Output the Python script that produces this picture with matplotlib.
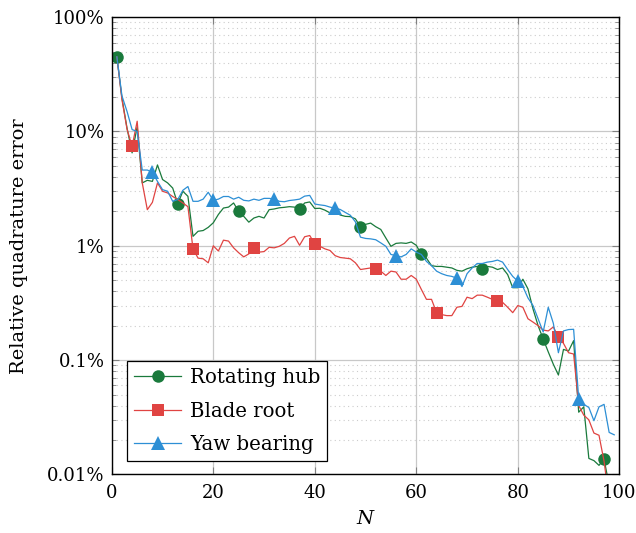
import matplotlib
matplotlib.use("Agg")
import matplotlib.pyplot as plt
from matplotlib.ticker import FixedLocator, FuncFormatter, LogLocator, NullFormatter
import numpy as np

N = list(range(1, 100))

rotating_hub = [45, 19.6, 10.7, 6.5, 11, 3.55, 3.74, 3.66, 5.1, 3.8,
                3.55, 3.2, 2.33, 3.0, 2.71, 1.21, 1.34, 1.36, 1.45, 1.59,
                1.88, 2.14, 2.18, 2.37, 2.0, 1.81, 1.61, 1.75, 1.81, 1.75,
                2.07, 2.1, 2.15, 2.17, 2.2, 2.18, 2.1, 2.37, 2.42, 2.12,
                2.13, 2.05, 1.94, 2.0, 1.86, 1.81, 1.8, 1.72, 1.47, 1.54,
                1.58, 1.47, 1.39, 1.17, 0.99, 1.05, 1.06, 1.05, 1.08, 1.01,
                0.84, 0.78, 0.67, 0.66, 0.66, 0.65, 0.64, 0.61, 0.6, 0.63,
                0.65, 0.66, 0.63, 0.66, 0.65, 0.62, 0.64, 0.56, 0.43, 0.43,
                0.51, 0.42, 0.28, 0.2, 0.153, 0.118, 0.092, 0.074, 0.124, 0.12,
                0.148, 0.035, 0.039, 0.0138, 0.0132, 0.012, 0.0136, 0.008, 0.007]

blade_root = [45, 19, 10.5, 7.4, 12.3, 3.55, 2.07, 2.4, 3.55, 3.0,
              2.9, 2.7, 2.54, 2.37, 2.2, 0.94, 0.78, 0.77, 0.71, 1.0,
              0.9, 1.12, 1.1, 0.96, 0.87, 0.8, 0.85, 0.96, 0.88, 0.89,
              0.97, 0.96, 0.99, 1.05, 1.17, 1.21, 1.01, 1.2, 1.23, 1.04,
              0.99, 0.94, 0.91, 0.82, 0.79, 0.78, 0.77, 0.71, 0.62, 0.63,
              0.64, 0.63, 0.6, 0.55, 0.6, 0.59, 0.51, 0.51, 0.55, 0.51,
              0.415, 0.34, 0.34, 0.26, 0.25, 0.245, 0.245, 0.29, 0.295, 0.355,
              0.345, 0.37, 0.37, 0.355, 0.34, 0.33, 0.32, 0.29, 0.26, 0.3,
              0.29, 0.23, 0.215, 0.2, 0.183, 0.18, 0.195, 0.16, 0.14, 0.116,
              0.113, 0.04, 0.033, 0.03, 0.023, 0.022, 0.013, 0.006, 0.005]

yaw_bearing = [45, 20.5, 15, 10.4, 10, 4.6, 4.6, 4.4, 3.66, 3.1,
               3.0, 2.45, 2.54, 3.06, 3.3, 2.45, 2.45, 2.56, 2.94, 2.5,
               2.56, 2.7, 2.7, 2.56, 2.66, 2.5, 2.47, 2.56, 2.5, 2.6,
               2.6, 2.57, 2.45, 2.43, 2.49, 2.52, 2.56, 2.72, 2.76, 2.32,
               2.28, 2.25, 2.18, 2.13, 2.08, 1.96, 1.85, 1.62, 1.19, 1.16,
               1.15, 1.13, 1.06, 0.99, 0.84, 0.82, 0.8, 0.84, 0.94, 0.88,
               0.84, 0.73, 0.67, 0.6, 0.57, 0.55, 0.54, 0.52, 0.44, 0.57,
               0.64, 0.7, 0.7, 0.72, 0.73, 0.75, 0.72, 0.62, 0.54, 0.49,
               0.44, 0.35, 0.3, 0.23, 0.176, 0.29, 0.21, 0.116, 0.18, 0.185,
               0.186, 0.046, 0.041, 0.0385, 0.0295, 0.039, 0.041, 0.0233, 0.0222]

series_names = ["Rotating hub", "Blade root", "Yaw bearing"]
x_ticks = [0, 20, 40, 60, 80, 100]
y_ticks = [0.01, 0.1, 1, 10, 100]
y_tick_labels = ["0.01%", "0.1%", "1%", "10%", "100%"]

plt.rcParams['font.family'] = ['DejaVu Serif']
plt.rcParams['mathtext.fontset'] = 'dejavuserif'

fig = plt.figure(figsize=(6.36, 5.33), dpi=100)
ax = fig.add_axes([111.8 / 636, 1 - 474.4 / 533, 507.5 / 636, 457.2 / 533])

styles = [
    dict(color='#1a7a3c', marker='o', ms=9, markevery=(0, 12)),
    dict(color='#e04442', marker='s', ms=9, markevery=(3, 12)),
    dict(color='#2d8fd5', marker='^', ms=10, markevery=(7, 12)),
]
for vals, name, st in zip([rotating_hub, blade_root, yaw_bearing], series_names, styles):
    ax.plot(N, vals, lw=0.9, label=name, markeredgewidth=0, **st)

ax.set_yscale('log')
ax.set_xlim(0, 100)
ax.set_ylim(0.01, 100)
ax.xaxis.set_major_locator(FixedLocator(x_ticks))
ax.yaxis.set_major_locator(FixedLocator(y_ticks))
ax.set_yticklabels(y_tick_labels)
ax.yaxis.set_minor_locator(LogLocator(base=10, subs=np.arange(2, 10)))
ax.yaxis.set_minor_formatter(NullFormatter())

ax.grid(True, which='major', color='#c8c8c8', lw=0.9, ls='-')
ax.grid(True, which='minor', axis='y', color='#cccccc', lw=0.8, ls=(0, (1, 3)))
ax.set_axisbelow(True)

ax.tick_params(which='both', direction='in', top=True, right=True, color='#808080')
ax.tick_params(which='major', length=5, labelsize=13, pad=5)
ax.tick_params(axis='x', which='major', pad=7)
ax.tick_params(which='minor', length=3)
for s in ax.spines.values():
    s.set_linewidth(1.0)

ax.set_xlabel('$N$', fontsize=14, labelpad=6)
ax.set_ylabel('Relative quadrature error', fontsize=14, labelpad=14)

leg = ax.legend(loc='lower left', bbox_to_anchor=(0.03, 0.03), borderaxespad=0,
                fontsize=14.2, fancybox=False, framealpha=1, edgecolor='black',
                handlelength=2.4, handletextpad=0.45, labelspacing=0.72, borderpad=0.35)
leg.get_frame().set_linewidth(0.9)

fig.savefig('out.png', dpi=100)
